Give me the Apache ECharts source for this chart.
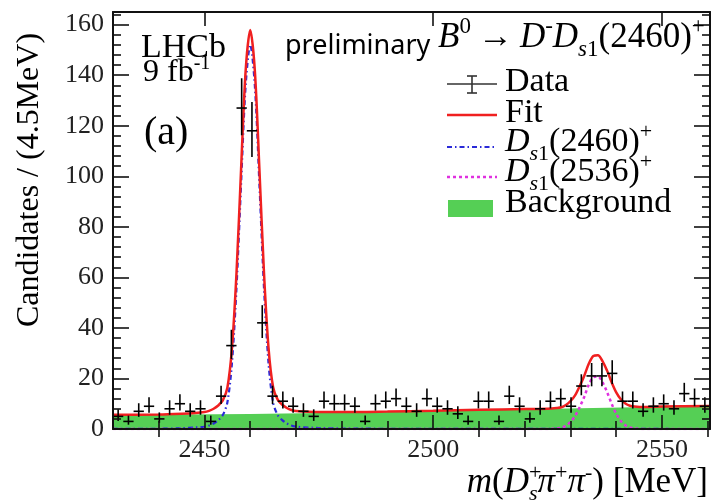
<!DOCTYPE html>
<html><head><meta charset="utf-8">
<script src="https://cdn.jsdelivr.net/npm/echarts@6/dist/echarts.min.js"></script>
<style>html,body{margin:0;padding:0;background:#fff}#c{width:711px;height:504px}</style>
</head><body><div id="c"></div>
<script>
// ---- data ----
const binCenters = [2431.125,2433.375,2435.625,2437.875,2440.125,2442.375,2444.625,2446.875,2449.125,2451.375,
  2453.625,2455.875,2458.125,2460.375,2462.625,2464.875,2467.125,2469.375,2471.625,2473.875,
  2476.125,2478.375,2480.625,2482.875,2485.125,2487.375,2489.625,2491.875,2494.125,2496.375,
  2498.625,2500.875,2503.125,2505.375,2507.625,2509.875,2512.125,2514.375,2516.625,2518.875,
  2521.125,2523.375,2525.625,2527.875,2530.125,2532.375,2534.625,2536.875,2539.125,2541.375,
  2543.625,2545.875,2548.125,2550.375,2552.625,2554.875,2557.125,2559.375];
const counts = [5,3,7,9,4,8,10,7,8,3, 13,33,127,118,42,13,11,9,7,5, 11,10,10,9,3,10,11,12,9,7,
  12,9,8,6,3,11,11,3,13,9, 4,8,11,12,9,17,21,21,22,11, 11,7,9,10,8,14,12,9];

const fitX = [2430,2440,2445,2448,2450,2451,2452,2453,2454,2455,2456,2457,2458,2459,2460,2461,2462,2463,2464,2465,2466,2467,2468,2469,2470,2475,2480,2490,2500,2510,2520,2525,2527,2528,2529,2530,2531,2532,2533,2534,2535,2536,2537,2538,2539,2540,2541,2542,2543,2544,2546,2550,2560.5];
const fitY = [5.6,5.7,6.0,6.3,6.7,7.2,8.0,9.3,11.3,16.3,31.9,61.9,102.9,141.9,157.9,141.9,103.0,62.0,32.0,16.5,11.6,9.6,8.3,7.5,7.1,6.7,6.7,6.9,7.2,7.6,7.9,8.0,8.3,8.6,9.5,11.0,13.3,16.9,21.0,25.8,28.9,29.2,26.9,23.1,18.5,14.5,11.8,10.1,9.2,8.9,8.7,8.9,9.1];

const sig2460X = [2430,2440,2445,2448,2450,2451,2452,2453,2454,2455,2456,2457,2458,2459,2460,2461,2462,2463,2464,2465,2466,2467,2468,2469,2470,2475,2480,2490,2500,2520,2560.5];
const sig2460Y = [0.05,0.1,0.3,0.6,0.9,1.4,2.2,3.5,5.5,10.5,26,56,97,136,152,136,97,56,26,10.5,5.5,3.5,2.2,1.4,0.9,0.4,0.2,0.1,0.1,0.05,0];

const sig2536X = [2430,2520,2526,2527,2528,2529,2530,2531,2532,2533,2534,2535,2536,2537,2538,2539,2540,2541,2542,2543,2544,2545,2546,2560.5];
const sig2536Y = [0,0,0.05,0.2,0.5,1.3,2.8,5.1,8.6,12.7,17.5,20.5,20.8,18.5,14.6,10.0,6.0,3.2,1.5,0.6,0.2,0.1,0,0];

const bkgX = [2430,2445,2460,2475,2490,2505,2520,2535,2550,2560.5];
const bkgY = [5.5,5.7,5.9,6.3,6.8,7.3,7.8,8.3,8.8,9.1];

const xMajorTicks = [2450,2500,2550];
const xMinorTicks = [2440,2460,2470,2480,2490,2510,2520,2530,2540,2560];
const yMajorTicks = [0,20,40,60,80,100,120,140,160];
const yMinorTicks = [4,8,12,16,24,28,32,36,44,48,52,56,64,68,72,76,84,88,92,96,104,108,112,116,124,128,132,136,144,148,152,156,164];

const xMin = 2430, xMax = 2560.5, yMin = 0, yMax = 165;
const halfBin = 1.125;

// ---- styling ----
const SERIF = 'Liberation Serif';
const INK = '#111';
const RED = '#f02020', BLUE = '#2a2ad8', MAGENTA = '#e030e0', GREEN = '#55cf55';

const mctx = document.createElement('canvas').getContext('2d');
function measure(t, size, it, fam) {
  mctx.font = (it ? 'italic ' : '') + size + 'px "' + (fam || SERIF) + '"';
  return mctx.measureText(t).width;
}
// parts: [text, size, italic, dy, advance]
function runWidth(parts) {
  let w = 0;
  for (const p of parts) { if (p[4] !== false) w += measure(p[0], p[1], p[2]); }
  return w;
}
function runText(parts, x0, base, fam, color) {
  const els = []; let x = x0;
  for (const p of parts) {
    const t = p[0], size = p[1], it = p[2], dy = p[3] || 0, adv = p[4] !== false;
    els.push({type: 'text', x: x, y: base + dy - 0.3375 * size, z: 50, silent: true,
      style: {text: t, fontSize: size, fontFamily: fam || SERIF, fontStyle: it ? 'italic' : 'normal',
        fill: color || '#000', align: 'left', verticalAlign: 'middle'}});
    if (adv) x += measure(t, size, it, fam);
  }
  return els;
}

const chart = echarts.init(document.getElementById('c'), null, {renderer: 'canvas'});

const axLine = {show: true, onZero: false, lineStyle: {color: INK, width: 2}};
const tickStyle = {color: INK, width: 1.6};
const plain = v => String(Math.round(v));
function xAx(pos, major, withLine, withLabel) {
  return {type: 'value', min: xMin, max: xMax, position: pos, offset: 0, z: 10,
    splitLine: {show: false},
    axisLine: withLine ? axLine : {show: false},
    axisTick: {show: true, inside: true, length: major ? 14 : 8, customValues: major ? xMajorTicks : xMinorTicks, lineStyle: tickStyle},
    axisLabel: withLabel ? {show: true, customValues: xMajorTicks, formatter: plain, margin: 8, fontFamily: SERIF, fontSize: 26, color: '#222'} : {show: false}};
}
function yAx(pos, major, withLine, withLabel) {
  return {type: 'value', min: yMin, max: yMax, position: pos, offset: 0, z: 10,
    splitLine: {show: false},
    axisLine: withLine ? axLine : {show: false},
    axisTick: {show: true, inside: true, length: major ? 16 : 8, customValues: major ? yMajorTicks : yMinorTicks, lineStyle: tickStyle},
    axisLabel: withLabel ? {show: true, customValues: yMajorTicks, formatter: plain, margin: 9, fontFamily: SERIF, fontSize: 26, color: '#222'} : {show: false}};
}

const pairs = (xs, ys) => xs.map((x, i) => [x, ys[i]]);

// ---- text graphics ----
const g = [];
g.push(...runText([['LHCb', 34, false]], 141, 60));
g.push(...runText([['9 fb', 32, false], ['-1', 20, false, -13]], 143, 83));
g.push(...runText([['(a)', 40, false]], 144, 147));
g.push(...runText([['preliminary', 27, false]], 285, 55, 'Noto Sans'));
g.push(...runText([['B', 35, true], ['0', 23, false, -15], ['\u2009\u2192\u2009', 35, false], ['D', 35, true], ['-', 23, false, -15],
  ['D', 35, true], ['s', 23, true, 8], ['1', 23, false, 8], ['(2460)', 35, false], ['+', 23, false, -15]], 438, 50));

// legend
const LX0 = 447, LX1 = 497, TX = 505;
g.push({type: 'line', z: 50, shape: {x1: LX0, y1: 84, x2: LX1, y2: 84}, style: {stroke: '#333', lineWidth: 1.6}});
g.push({type: 'line', z: 50, shape: {x1: 472, y1: 76, x2: 472, y2: 93}, style: {stroke: '#333', lineWidth: 1.6}});
g.push({type: 'line', z: 50, shape: {x1: 467, y1: 76, x2: 477, y2: 76}, style: {stroke: '#333', lineWidth: 1.6}});
g.push({type: 'line', z: 50, shape: {x1: 467, y1: 93, x2: 477, y2: 93}, style: {stroke: '#333', lineWidth: 1.6}});
g.push(...runText([['Data', 34, false]], TX, 94));
g.push({type: 'line', z: 50, shape: {x1: LX0, y1: 115, x2: LX1, y2: 115}, style: {stroke: RED, lineWidth: 2.5}});
g.push(...runText([['Fit', 34, false]], TX, 125));
g.push({type: 'line', z: 50, shape: {x1: LX0, y1: 147, x2: LX1, y2: 147}, style: {stroke: BLUE, lineWidth: 2.2, lineDash: [5, 3, 1.5, 3]}});
g.push(...runText([['D', 34, true], ['s', 22, true, 8], ['1', 22, false, 8], ['(2460)', 34, false], ['+', 22, false, -14]], TX, 154));
g.push({type: 'line', z: 50, shape: {x1: LX0, y1: 177, x2: LX1, y2: 177}, style: {stroke: MAGENTA, lineWidth: 2.5, lineDash: [3, 3]}});
g.push(...runText([['D', 34, true], ['s', 22, true, 8], ['1', 22, false, 8], ['(2536)', 34, false], ['+', 22, false, -14]], TX, 184));
g.push({type: 'rect', z: 50, shape: {x: 448, y: 200, width: 45, height: 17}, style: {fill: GREEN}});
g.push(...runText([['Background', 34, false]], TX, 215));

// x-axis title (right aligned)
const xt = [['m', 35, true], ['(', 35, false], ['D', 35, true], ['+', 22, false, -14, false], ['s', 22, true, 7],
  ['\u03c0', 35, true], ['+', 22, false, -14], ['\u03c0', 35, true], ['-', 22, false, -14], [')', 35, false], [' [MeV]', 35, false]];
g.push(...runText(xt, 708 - runWidth(xt), 495));
// y-axis title
g.push({type: 'text', x: 30, y: 180, rotation: Math.PI / 2, z: 50, silent: true,
  style: {text: 'Candidates / (4.5MeV)', fontSize: 32, fontFamily: SERIF, fill: '#000', align: 'center', verticalAlign: 'middle'}});

const option = {
  animation: false,
  backgroundColor: '#fff',
  grid: {left: 113, right: 1, top: 12, bottom: 75, containLabel: false},
  xAxis: [xAx('bottom', true, true, true), xAx('bottom', false, false, false), xAx('top', true, true, false), xAx('top', false, false, false)],
  yAxis: [yAx('left', true, true, true), yAx('left', false, false, false), yAx('right', true, true, false), yAx('right', false, false, false)],
  legend: {show: false},
  series: [
    {name: 'Background', type: 'line', data: pairs(bkgX, bkgY), showSymbol: false, symbol: 'none', smooth: false,
      lineStyle: {width: 0}, areaStyle: {color: GREEN, opacity: 1}, z: 2, clip: true},
    {name: 'Ds1(2460)+', type: 'line', data: pairs(sig2460X, sig2460Y), symbol: 'none', smooth: 0.3,
      lineStyle: {color: BLUE, width: 2.2, type: [5, 3, 1.5, 3]}, z: 3, clip: true},
    {name: 'Ds1(2536)+', type: 'line', data: pairs(sig2536X, sig2536Y), symbol: 'none', smooth: 0.3,
      lineStyle: {color: MAGENTA, width: 2.5, type: [3, 3]}, z: 3, clip: true},
    {name: 'Fit', type: 'line', data: pairs(fitX, fitY), symbol: 'none', smooth: 0.3,
      lineStyle: {color: RED, width: 2.5}, z: 4, clip: true},
    {name: 'Data', type: 'custom', data: pairs(binCenters, counts), z: 6, clip: true,
      renderItem: function (params, api) {
        const x = api.value(0), n = api.value(1);
        const s = Math.sqrt(n + 0.25);
        const lo = api.coord([x, n - s + 0.5]), hi = api.coord([x, n + s + 0.5]);
        const l = api.coord([x - halfBin, n]), r = api.coord([x + halfBin, n]);
        return {type: 'group', children: [
          {type: 'line', shape: {x1: lo[0], y1: lo[1], x2: hi[0], y2: hi[1]}, style: {stroke: '#000', lineWidth: 1.6}},
          {type: 'line', shape: {x1: l[0], y1: l[1], x2: r[0], y2: r[1]}, style: {stroke: '#000', lineWidth: 1.6}}
        ]};
      }}
  ],
  graphic: g
};
chart.setOption(option);
</script></body></html>
